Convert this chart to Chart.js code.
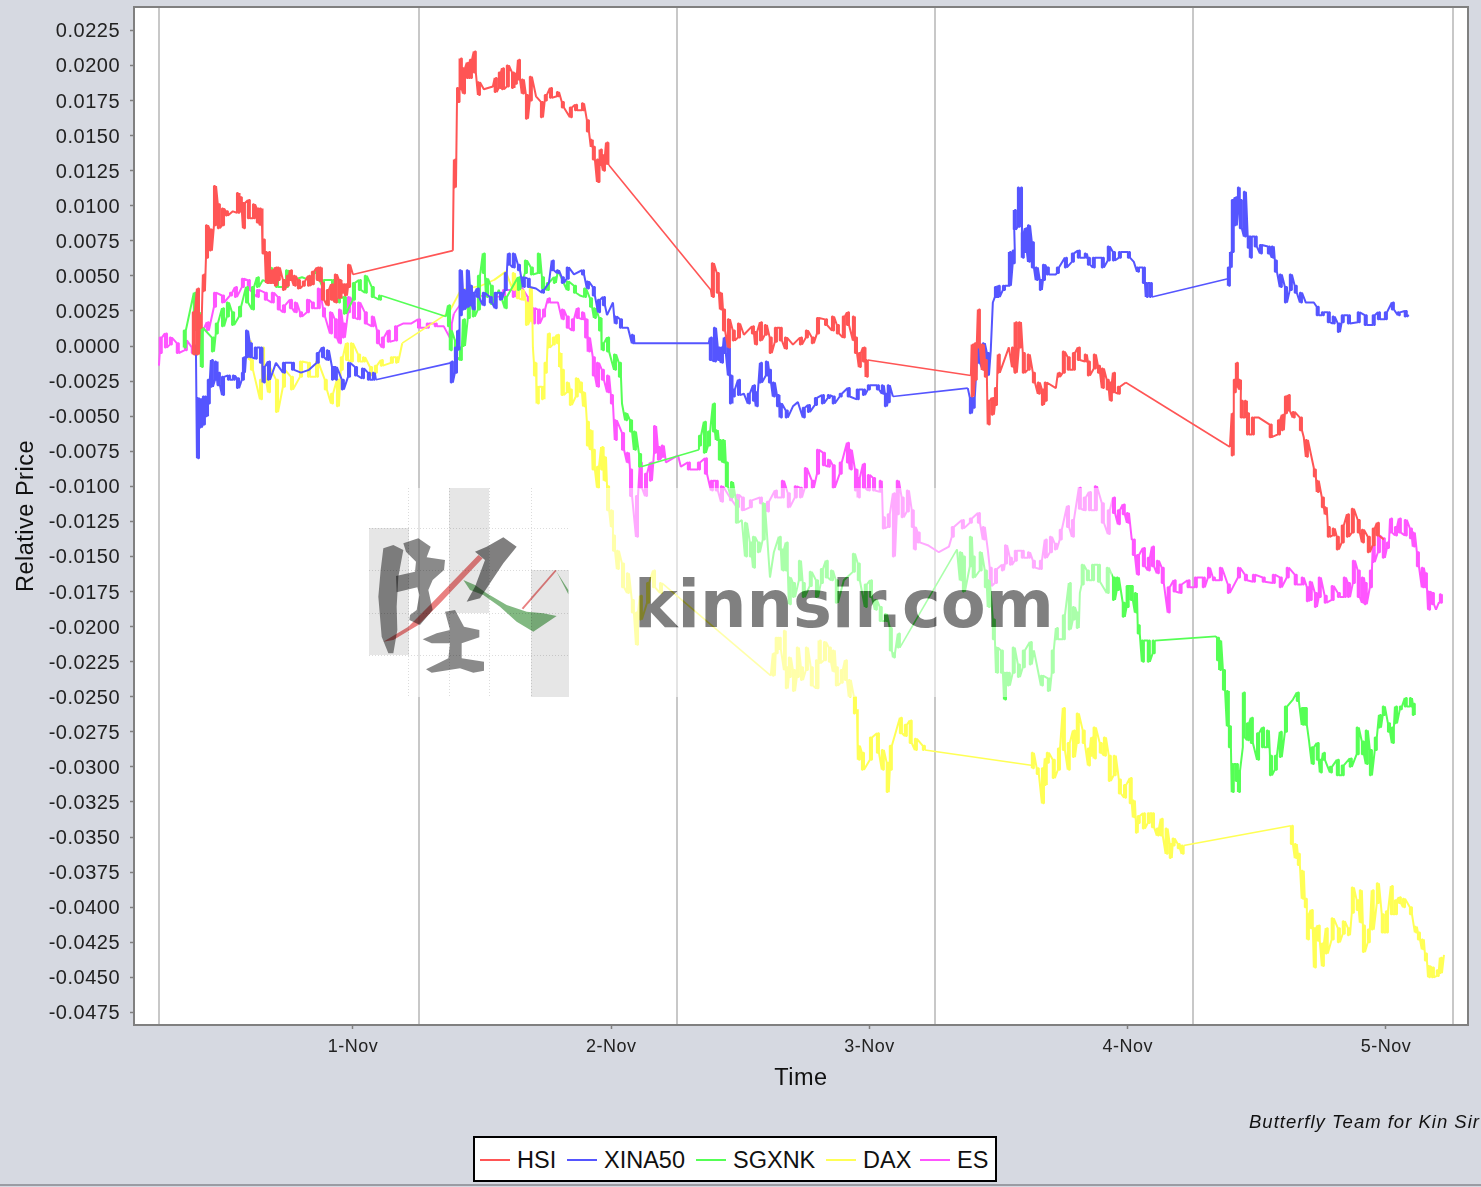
<!DOCTYPE html>
<html><head><meta charset="utf-8"><title>Relative Price</title>
<script src="https://cdn.jsdelivr.net/npm/chart.js@4"></script>
<style>
html,body{margin:0;padding:0;width:1481px;height:1187px;overflow:hidden;background:#d6d9e1}
#wrap{position:relative;width:1481px;height:1187px;overflow:hidden}
canvas{position:absolute;left:0;top:0}
#foot{position:absolute;left:1249px;top:1111px;font:italic 18.5px "Liberation Sans";letter-spacing:1px;color:#111;white-space:nowrap}
#legend{position:absolute;left:473px;top:1136px;width:520px;height:42px;border:2px solid #000;background:#fff;font:23.5px "Liberation Sans";color:#111}
#legend span{position:absolute;top:8px;line-height:28px;white-space:nowrap}
#legend i{position:absolute;top:21px;height:2px;width:30px}
#rule{position:absolute;left:0;top:1184px;width:1481px;height:2px;background:#9a9ca3}
</style></head><body><div id="wrap"><canvas id="c" width="1481" height="1187"></canvas>
<div id="foot">Butterfly Team for Kin Sir</div><div id="legend"></div><div id="rule"></div></div>
<script>
// Each row: [day of November, high, low] of the relative price, or [day, price]
const hsi=[[.384,.0024,-.0006],[.400,.0041,-.0006],[.411,.0022,.0013],[.423,.0051,.0039],[.435,.0086,.0063],[.450,.0083,.0068],[.466,.0114,.0086],[.481,.0101,.0084],[.497,.0098,.0086],[.512,.0096,.0093],[.535,.0096],[.555,.0109,.0095],[.566,.0106,.0096],[.578,.0102,.0084],[.597,.0104,.0091],[.617,.0101,.0091],[.632,.0098,.0088],[.644,.0098,.0086],[.655,.0076,.0066],[.667,.0067,.0045],[.675,.0067,.0045],[.690,.0054,.0045],[.702,.0056,.0043],[.713,.0056,.0047],[.733,.0047,.0040],[.748,.0050,.0043],[.760,.0054,.0047],[.775,.0050,.0043],[.791,.0047,.0041],[.810,.0046,.0043],[.830,.0050,.0043],[.845,.0053,.0044],[.864,.0056,.0047],[.876,.0056,.0046],[.884,.0045,.0033],[.903,.0040,.0029],[.919,.0044,.0033],[.934,.0051,.0031],[.950,.0047,.0034],[.961,.0044,.0038],[.973,.0044,.0036],[.985,.0058,.0042],[1,.0051],[1.387,.0068],[1.395,.0133,.0113],[1.407,.0184,.0174],[1.418,.0205,.0183],[1.430,.0198,.0180],[1.445,.0202,.0191],[1.457,.0204,.0191],[1.472,.0210,.0195],[1.488,.0188,.0179],[1.507,.0183],[1.542,.0185],[1.553,.0191,.0181],[1.569,.0195,.0184],[1.581,.0198,.0183],[1.600,.0200,.0185],[1.620,.0195,.0184],[1.631,.0194,.0187],[1.643,.0204,.0190],[1.658,.0190,.0180],[1.674,.0179,.0162],[1.689,.0192,.0175],[1.709,.0178],[1.732,.0174,.0163],[1.747,.0179,.0175],[1.767,.0184,.0177],[1.794,.0181,.0178],[1.813,.0174,.0170],[1.844,.0170,.0163],[1.864,.0172,.0168],[1.891,.0173,.0168],[1.910,.0161,.0153],[1.925,.0147,.0142],[1.933,.0142,.0133],[1.949,.0133,.0117],[1.960,.0140,.0129],[1.972,.0136,.0125],[1.984,.0145,.0130],[1.991,.0129],[2.386,.0040],[2.394,.0059,.0035],[2.413,.0052,.0038],[2.425,.0038,.0026],[2.437,.0026,.0011],[2.456,.0019,-.0001],[2.475,.0011,.0004],[2.495,.0016,.0006],[2.514,.0008],[2.549,.0014,.0009],[2.561,.0010,.0001],[2.580,.0017,.0004],[2.599,.0015,.0008],[2.618,.0006,-.0005],[2.638,.0013,.0003],[2.657,.0013,.0004],[2.677,.0006,-.0002],[2.704,.0001],[2.735,.0006,.0001],[2.758,.0011,.0006],[2.781,.0006,.0002],[2.801,.0020,.0009],[2.832,.0019,.0015],[2.859,.0021,.0011],[2.878,.0015,.0009],[2.901,.0021,.0006],[2.917,.0024,.0015],[2.940,.0021,.0004],[2.948,.0006,-.0005],[2.963,-.0005,-.0015],[2.979,-.0001,-.0011],[2.990,-.0010,-.0022],[3.393,-.0021],[3.400,.0001,-.0036],[3.412,.0002,-.0024],[3.424,.0026,-.0001],[3.439,.0001,-.0017],[3.451,-.0010,-.0022],[3.462,-.0039,-.0056],[3.478,-.0037,-.0049],[3.490,-.0030,-.0042],[3.501,-.0006,-.0019],[3.540,-.0001],[3.556,-.0001,-.0015],[3.567,.0017,-.0019],[3.583,.0017,-.0001],[3.598,-.0005,-.0019],[3.617,-.0006,-.0017],[3.637,-.0019,-.0026],[3.656,-.0026,-.0034],[3.672,-.0031,-.0042],[3.683,-.0026,-.0039],[3.722,-.0030],[3.734,-.0019,-.0022],[3.753,-.0004,-.0019],[3.772,-.0008,-.0017],[3.792,-.0005,-.0017],[3.811,-.0001,-.0010],[3.838,-.0006,-.0011],[3.850,-.0011,-.0021],[3.873,-.0006,-.0016],[3.889,-.0014,-.0019],[3.904,-.0016,-.0030],[3.923,-.0024,-.0031],[3.935,-.0026,-.0039],[3.947,-.0019,-.0033],[3.966,-.0029,-.0034],[3.993,-.0026],[4.396,-.0072],[4.407,-.0048,-.0078],[4.415,-.0024,-.0033],[4.423,-.0012,-.0029],[4.435,-.0024,-.0031],[4.442,-.0039,-.0051],[4.458,-.0039,-.0051],[4.466,-.0048,-.0063],[4.485,-.0051,-.0063],[4.508,-.0051],[4.554,-.0056,-.0065],[4.586,-.0053,-.0063],[4.601,-.0049,-.0060],[4.613,-.0036,-.0048],[4.624,-.0035,-.0046],[4.643,-.0047,-.0051],[4.671,-.0051,-.0060],[4.682,-.0065],[4.694,-.0067,-.0079],[4.721,-.0087],[4.725,-.0088,-.0093],[4.736,-.0096,-.0104],[4.756,-.0108,-.0115],[4.767,-.0115,-.0120],[4.779,-.0129,-.0136],[4.798,-.0130,-.0135],[4.814,-.0136,-.0145],[4.833,-.0128,-.0140],[4.853,-.0120,-.0136],[4.872,-.0116,-.0133],[4.895,-.0124,-.0133],[4.911,-.0131,-.0140],[4.934,-.0136,-.0147],[4.953,-.0130,-.0142],[4.969,-.0126,-.0135],[4.992,-.0138]];
const xina50=[[.392,.0001],[.400,-.0037,-.0080],[.411,-.0038,-.0058],[.423,-.0036,-.0056],[.435,-.0036,-.0050],[.442,-.0024,-.0041],[.454,-.0010,-.0029],[.470,-.0011,-.0024],[.481,-.0019,-.0028],[.497,-.0022,-.0035],[.520,-.0021,-.0024],[.539,-.0021,-.0024],[.555,-.0023,-.0030],[.574,-.0019,-.0024],[.578,-.0008,-.0019],[.590,.0011,-.0008],[.605,.0002,-.0008],[.624,-.0001,-.0009],[.644,-.0001,-.0012],[.655,-.0015,-.0026],[.675,-.0011,-.0024],[.702,-.0012],[.733,-.0012,-.0019],[.768,-.0012,-.0017],[.799,-.0019],[.830,-.0017],[.864,-.0005,-.0012],[.884,-.0001,-.0008],[.903,-.0003,-.0010],[.923,-.0015,-.0024],[.934,-.0015,-.0024],[.961,-.0024,-.0031],[.985,-.0012,-.0022],[1.012,-.0015,-.0021],[1.039,-.0016,-.0023],[1.062,-.0019,-.0024],[1.081,-.0019,-.0024],[1.089,-.0024],[1.379,-.0012],[1.383,-.0011,-.0026],[1.399,-.0001,-.0019],[1.407,.0011,-.0003],[1.418,.0054,.0022],[1.430,.0040,.0026],[1.445,.0054,.0028],[1.457,.0043,.0029],[1.468,.0038,.0026],[1.484,.0041,.0035],[1.507,.0038,.0029],[1.534,.0035,.0031],[1.553,.0038,.0027],[1.573,.0038,.0033],[1.592,.0052,.0040],[1.604,.0066,.0058],[1.623,.0066,.0056],[1.643,.0058,.0054],[1.662,.0049,.0042],[1.681,.0048,.0042],[1.709,.0041],[1.736,.0040,.0038],[1.759,.0045],[1.774,.0061,.0054],[1.794,.0054,.0052],[1.813,.0049,.0045],[1.832,.0056,.0048],[1.856,.0051],[1.891,.0054,.0051],[1.910,.0046,.0041],[1.933,.0042,.0036],[1.953,.0033,.0024],[1.972,.0035,.0029],[1.984,.0022],[2.007,.0031],[2.018,.0021,.0016],[2.038,.0019,.0013],[2.065,.0013],[2.084,.0008,.0002],[2.090,.0002],[2.378,.0002],[2.386,.0006,-.0010],[2.402,.0013,-.0011],[2.417,-.0001,-.0010],[2.429,-.0001,-.0012],[2.440,.0006,-.0005],[2.456,-.0001,-.0021],[2.464,-.0021,-.0041],[2.475,-.0031,-.0036],[2.495,-.0024,-.0035],[2.514,-.0034],[2.533,-.0034,-.0041],[2.553,-.0028,-.0039],[2.564,-.0033,-.0043],[2.580,-.0012,-.0026],[2.603,-.0011,-.0021],[2.615,-.0017,-.0026],[2.630,-.0026,-.0036],[2.646,-.0035,-.0043],[2.657,-.0041,-.0051],[2.680,-.0046,-.0051],[2.704,-.0043],[2.723,-.0040],[2.746,-.0044,-.0051],[2.766,-.0042,-.0047],[2.793,-.0037,-.0042],[2.820,-.0035,-.0041],[2.843,-.0035,-.0037],[2.862,-.0036,-.0041],[2.889,-.0034,-.0036],[2.920,-.0030,-.0036],[2.955,-.0031,-.0038],[2.979,-.0031,-.0035],[2.998,-.0028,-.0031],[3.033,-.0028,-.0031],[3.052,-.0028,-.0034],[3.064,-.0034,-.0043],[3.075,-.0028,-.0040],[3.091,-.0036],[3.381,-.0030],[3.393,-.0037,-.0048],[3.404,-.0037,-.0044],[3.424,.0002,-.0012],[3.443,.0002,-.0017],[3.459,-.0005,-.0021],[3.470,-.0003],[3.478,.0031],[3.490,.0042,.0035],[3.501,.0043,.0035],[3.521,.0043,.0040],[3.540,.0043],[3.544,.0067,.0043],[3.559,.0068,.0059],[3.563,.0097,.0083],[3.579,.0113,.0085],[3.587,.0113,.0088],[3.594,.0081,.0063],[3.606,.0084,.0067],[3.618,.0086,.0060],[3.633,.0074,.0056],[3.648,.0056,.0047],[3.664,.0047,.0040],[3.676,.0058,.0047],[3.691,.0056,.0051],[3.722,.0051],[3.730,.0056,.0052],[3.761,.0063,.0056],[3.788,.0066,.0060],[3.811,.0068,.0063],[3.838,.0066,.0063],[3.850,.0063,.0058],[3.869,.0063,.0056],[3.904,.0063,.0056],[3.927,.0071,.0061],[3.947,.0067,.0061],[3.970,.0067,.0063],[4.005,.0067,.0063],[4.024,.0060],[4.040,.0056,.0053],[4.063,.0056,.0045],[4.074,.0045,.0035],[4.090,.0045,.0035],[4.388,.0048],[4.392,.0056,.0043],[4.400,.0067,.0056],[4.407,.0104,.0067],[4.419,.0106,.0086],[4.431,.0113,.0095],[4.438,.0104,.0084],[4.454,.0110,.0078],[4.469,.0078,.0070],[4.477,.0078,.0063],[4.496,.0078,.0071],[4.516,.0072,.0066],[4.547,.0071,.0066],[4.562,.0071,.0063],[4.574,.0061,.0053],[4.593,.0051,.0042],[4.613,.0042,.0031],[4.632,.0051,.0040],[4.651,.0043,.0038],[4.671,.0038,.0031],[4.690,.0031],[4.721,.0031],[4.736,.0028,.0022],[4.756,.0024,.0022],[4.779,.0024,.0017],[4.798,.0021,.0016],[4.818,.0016,.0010],[4.833,.0022,.0017],[4.857,.0022,.0016],[4.895,.0024,.0017],[4.922,.0022,.0015],[4.953,.0022,.0015],[4.973,.0024,.0019],[5,.0024,.0019],[5.027,.0031,.0026],[5.050,.0024,.0022],[5.077,.0025,.0021],[5.089,.0022]];
const sgxnk=[[.349,.0011,-.0001],[.388,.0038,.0011],[.408,.0024],[.415,.0013,-.0015],[.458,.0006,-.0004],[.473,.0016,.0009],[.497,.0027,.0014],[.516,.0031,.0021],[.536,.0024,.0015],[.563,.0028,.0021],[.590,.0042,.0031],[.613,.0042,.0026],[.632,.0049,.0042],[.651,.0047],[.683,.0056,.0045],[.706,.0047,.0042],[.745,.0054,.0042],[.768,.0047],[.803,.0049],[.833,.0047],[.864,.0054,.0048],[.884,.0047,.0043],[.923,.0047,.0038],[.946,.0034,.0031],[.969,.0035,.0023],[1.004,.0045,.0033],[1.027,.0047,.0040],[1.050,.0050,.0038],[1.077,.0042,.0035],[1.105,.0036,.0033],[1.360,.0021],[1.372,.0029,.0014],[1.379,.0011,-.0003],[1.399,.0004,-.0008],[1.418,-.0001,-.0010],[1.430,.0019,.0000],[1.449,.0031,.0020],[1.468,.0028,.0021],[1.488,.0050,.0026],[1.507,.0066,.0052],[1.519,.0048,.0035],[1.538,.0043,.0030],[1.565,.0040],[1.592,.0035,.0027],[1.643,.0049,.0040],[1.670,.0061,.0052],[1.693,.0056,.0051],[1.720,.0066,.0052],[1.736,.0049,.0041],[1.755,.0045,.0040],[1.782,.0049,.0045],[1.794,.0054],[1.832,.0046,.0040],[1.860,.0043,.0038],[1.879,.0036],[1.899,.0041,.0035],[1.922,.0034,.0028],[1.937,.0027,.0020],[1.957,.0020,.0011],[1.968,.0002,-.0003],[1.988,.0006,-.0004],[2.015,-.0006,-.0017],[2.034,-.0012,-.0022],[2.042,-.0041],[2.058,-.0048,-.0053],[2.077,-.0053,-.0061],[2.092,-.0061,-.0074],[2.112,-.0077,-.0086],[2.340,-.0074],[2.344,-.0064,-.0071],[2.363,-.0054,-.0076],[2.379,-.0061,-.0071],[2.398,-.0041,-.0061],[2.409,-.0060,-.0067],[2.421,-.0067,-.0081],[2.436,-.0067,-.0083],[2.448,-.0083,-.0100],[2.468,-.0097,-.0108],[2.487,-.0110,-.0126],[2.506,-.0124],[2.522,-.0126,-.0150],[2.541,-.0140,-.0150],[2.553,-.0136,-.0158],[2.572,-.0140,-.0147],[2.591,-.0112,-.0138],[2.603,-.0133],[2.615,-.0165],[2.630,-.0147],[2.653,-.0136,-.0145],[2.665,-.0145,-.0160],[2.680,-.0140,-.0160],[2.692,-.0165,-.0184],[2.708,-.0169,-.0179],[2.731,-.0153,-.0167],[2.746,-.0169,-.0179],[2.773,-.0161,-.0171],[2.797,-.0167,-.0179],[2.816,-.0159,-.0169],[2.835,-.0153,-.0165],[2.855,-.0160,-.0167],[2.874,-.0167,-.0183],[2.901,-.0167],[2.940,-.0148,-.0161],[2.959,-.0155,-.0167],[2.986,-.0170,-.0186],[3.006,-.0167,-.0179],[3.025,-.0181,-.0188],[3.044,-.0186,-.0196],[3.064,-.0191,-.0196],[3.083,-.0201,-.0217],[3.095,-.0219,-.0222],[3.114,-.0205,-.0215],[3.339,-.0145],[3.354,-.0147,-.0167],[3.366,-.0150,-.0175],[3.393,-.0136,-.0157],[3.404,-.0150,-.0165],[3.431,-.0147,-.0160],[3.451,-.0160,-.0172],[3.462,-.0167,-.0186],[3.482,-.0195,-.0209],[3.494,-.0215,-.0233],[3.513,-.0217,-.0233],[3.525,-.0233,-.0252],[3.540,-.0233,-.0242],[3.559,-.0215,-.0233],[3.579,-.0227,-.0236],[3.598,-.0217,-.0229],[3.625,-.0211,-.0227],[3.637,-.0217],[3.648,-.0227],[3.668,-.0235,-.0242],[3.695,-.0237,-.0246],[3.710,-.0217,-.0233],[3.726,-.0201,-.0209],[3.753,-.0192,-.0209],[3.776,-.0169,-.0202],[3.792,-.0186,-.0195],[3.807,-.0190,-.0201],[3.815,-.0176],[3.826,-.0156,-.0170],[3.846,-.0160,-.0167],[3.866,-.0156,-.0167],[3.889,-.0156,-.0168],[3.923,-.0158,-.0176],[3.947,-.0165,-.0181],[3.962,-.0165,-.0174],[3.985,-.0183,-.0193],[4,-.0171,-.0186],[4.016,-.0171,-.0181],[4.032,-.0176,-.0190],[4.043,-.0199,-.0205],[4.059,-.0210,-.0225],[4.082,-.0210,-.0225],[4.101,-.0210,-.0219],[4.342,-.0207],[4.350,-.0208,-.0224],[4.358,-.0210,-.0231],[4.373,-.0231,-.0245],[4.388,-.0246,-.0271],[4.396,-.0271,-.0286],[4.407,-.0298,-.0318],[4.423,-.0298,-.0310],[4.431,-.0303,-.0318],[4.446,-.0286],[4.450,-.0247,-.0279],[4.466,-.0269,-.0281],[4.481,-.0265,-.0283],[4.505,-.0276,-.0295],[4.524,-.0272,-.0286],[4.543,-.0274,-.0286],[4.555,-.0292,-.0306],[4.574,-.0292,-.0302],[4.593,-.0275,-.0293],[4.613,-.0257,-.0275],[4.640,-.0252],[4.659,-.0247,-.0253],[4.678,-.0258,-.0270],[4.690,-.0258,-.0270],[4.702,-.0281],[4.717,-.0286,-.0298],[4.736,-.0283,-.0295],[4.748,-.0295,-.0304],[4.760,-.0290,-.0295],[4.787,-.0300,-.0304],[4.814,-.0295,-.0306],[4.833,-.0299,-.0306],[4.864,-.0294,-.0300],[4.891,-.0272,-.0291],[4.911,-.0282,-.0291],[4.926,-.0274,-.0298],[4.942,-.0288,-.0306],[4.961,-.0279,-.0288],[4.977,-.0263,-.0272],[4.992,-.0257,-.0263],[5.012,-.0269,-.0275],[5.027,-.0272,-.0283],[5.039,-.0257,-.0269],[5.058,-.0257,-.0259],[5.077,-.0251,-.0257],[5.097,-.0251,-.0257],[5.108,-.0255,-.0263]];
const dax=[[.601,.0004,-.0010],[.609,-.0010,-.0017],[.644,-.0024,-.0038],[.652,-.0001,-.0015],[.675,-.0015,-.0033],[.706,-.0024,-.0047],[.733,-.0017,-.0029],[.764,-.0022,-.0031],[.799,-.0011,-.0022],[.830,-.0012,-.0022],[.861,-.0011,-.0022],[.895,-.0024,-.0031],[.919,-.0034,-.0041],[.942,-.0024,-.0043],[.957,-.0008,-.0017],[.977,.0002,-.0010],[.996,.0002,-.0011],[1.024,-.0006,-.0011],[1.043,-.0008,-.0011],[1.070,-.0015,-.0021],[1.089,-.0014,-.0019],[1.112,-.0010,-.0014],[1.151,-.0008,-.0012],[1.171,-.0008,-.0012],[1.191,.0002],[1.372,.0024],[1.418,.0040],[1.496,.0043],[1.546,.0047],[1.592,.0053],[1.623,.0052,.0040],[1.639,.0041,.0034],[1.658,.0040,.0033],[1.674,.0031,.0015],[1.689,.0042,.0018],[1.697,-.0001],[1.705,-.0012,-.0021],[1.716,-.0029,-.0041],[1.736,-.0029,-.0038],[1.747,-.0012,-.0019],[1.759,.0009,-.0001],[1.778,.0006,.0001],[1.794,.0008,.0002],[1.802,-.0005,-.0015],[1.813,-.0017,-.0035],[1.832,-.0026,-.0033],[1.844,-.0031,-.0042],[1.867,-.0023,-.0036],[1.883,-.0026,-.0033],[1.895,-.0033,-.0043],[1.910,-.0054,-.0071],[1.922,-.0060,-.0074],[1.933,-.0074,-.0088],[1.949,-.0086,-.0101],[1.965,-.0072,-.0088],[1.976,-.0079,-.0096],[1.988,-.0100,-.0117],[2.003,-.0117,-.0129],[2.011,-.0135,-.0146],[2.026,-.0146,-.0159],[2.046,-.0155,-.0172],[2.065,-.0162,-.0176],[2.084,-.0181,-.0190],[2.100,-.0190,-.0213],[2.115,-.0178,-.0195],[2.143,-.0169,-.0183],[2.166,-.0160,-.0172],[2.193,-.0169,-.0176],[2.618,-.0235],[2.630,-.0219,-.0235],[2.641,-.0208,-.0219],[2.653,-.0208,-.0216],[2.673,-.0203,-.0231],[2.680,-.0229,-.0244],[2.692,-.0222,-.0236],[2.708,-.0231,-.0246],[2.723,-.0215,-.0236],[2.739,-.0229,-.0238],[2.758,-.0215,-.0231],[2.777,-.0229,-.0242],[2.797,-.0224,-.0244],[2.808,-.0210,-.0226],[2.828,-.0211,-.0224],[2.847,-.0215,-.0225],[2.862,-.0217,-.0232],[2.874,-.0229,-.0242],[2.893,-.0231,-.0240],[2.909,-.0224,-.0238],[2.924,-.0238,-.0250],[2.944,-.0250,-.0262],[2.952,-.0259],[2.959,-.0285,-.0295],[2.975,-.0290,-.0302],[3.006,-.0279,-.0295],[3.033,-.0276,-.0290],[3.052,-.0288,-.0302],[3.071,-.0297,-.0318],[3.083,-.0285,-.0302],[3.122,-.0265,-.0276],[3.141,-.0270,-.0278],[3.160,-.0267,-.0283],[3.180,-.0280,-.0288],[3.211,-.0285,-.0288],[3.633,-.0299],[3.633,-.0290,-.0301],[3.652,-.0301,-.0305],[3.672,-.0301,-.0326],[3.683,-.0294,-.0313],[3.691,-.0290,-.0297],[3.714,-.0295,-.0308],[3.734,-.0287,-.0302],[3.753,-.0258,-.0288],[3.772,-.0283,-.0302],[3.792,-.0274,-.0293],[3.807,-.0262,-.0283],[3.830,-.0274,-.0283],[3.850,-.0287,-.0299],[3.862,-.0279,-.0292],[3.873,-.0272,-.0294],[3.896,-.0283,-.0290],[3.912,-.0279,-.0292],[3.931,-.0292,-.0310],[3.950,-.0292,-.0306],[3.970,-.0309,-.0319],[3.990,-.0313,-.0322],[4.012,-.0308,-.0326],[4.024,-.0324,-.0336],[4.036,-.0340,-.0347],[4.043,-.0335,-.0340],[4.063,-.0333,-.0344],[4.082,-.0333,-.0340],[4.098,-.0333,-.0343],[4.117,-.0344,-.0349],[4.132,-.0337,-.0349],[4.151,-.0344,-.0362],[4.167,-.0355,-.0365],[4.178,-.0351,-.0356],[4.198,-.0355,-.0358],[4.213,-.0356,-.0362],[4.632,-.0342],[4.636,-.0342,-.0355],[4.651,-.0355,-.0365],[4.663,-.0362,-.0370],[4.678,-.0374,-.0394],[4.690,-.0394,-.0400],[4.698,-.0405,-.0423],[4.713,-.0402,-.0415],[4.725,-.0415,-.0443],[4.740,-.0413,-.0424],[4.756,-.0426,-.0442],[4.771,-.0415,-.0433],[4.794,-.0408,-.0423],[4.818,-.0415,-.0425],[4.837,-.0410,-.0419],[4.857,-.0415,-.0420],[4.872,-.0386,-.0404],[4.891,-.0395,-.0402],[4.903,-.0388,-.0411],[4.915,-.0413,-.0432],[4.934,-.0416,-.0425],[4.949,-.0388,-.0416],[4.969,-.0383,-.0397],[4.988,-.0405,-.0418],[5.004,-.0403,-.0418],[5.023,-.0385,-.0405],[5.039,-.0395,-.0405],[5.054,-.0393,-.0397],[5.070,-.0394,-.0400],[5.097,-.0400,-.0405],[5.116,-.0414,-.0418],[5.128,-.0418,-.0423],[5.143,-.0423,-.0430],[5.155,-.0433,-.0438],[5.167,-.0442,-.0450],[5.182,-.0443,-.0450],[5.201,-.0445,-.0449],[5.213,-.0436,-.0447],[5.225,-.0434]];
const es=[[.249,-.0014],[.256,.0006,-.0005],[.276,.0009,-.0001],[.295,.0006,.0001],[.322,.0002,-.0005],[.353,.0004,-.0003],[.380,-.0001,-.0005],[.411,.0009,.0004],[.438,.0017,.0011],[.466,.0038,.0028],[.497,.0036,.0031],[.528,.0038,.0036],[.547,.0042,.0035],[.574,.0048,.0042],[.597,.0047,.0040],[.632,.0040,.0035],[.663,.0038,.0033],[.690,.0038,.0031],[.713,.0035,.0026],[.733,.0029,.0024],[.760,.0033,.0027],[.779,.0031,.0024],[.799,.0024,.0021],[.826,.0033,.0024],[.845,.0031,.0027],[.868,.0041,.0027],[.888,.0027,.0021],[.915,.0024,.0009],[.934,.0019,.0006],[.950,.0026,.0002],[.965,.0016,.0006],[.985,.0035,.0024],[1.004,.0031,.0020],[1.024,.0031,.0019],[1.050,.0024,.0016],[1.077,.0021,.0014],[1.097,.0011,.0002],[1.116,.0006,-.0001],[1.139,.0011,.0003],[1.167,.0014,.0004],[1.194,.0016],[1.225,.0016],[1.256,.0019,.0013],[1.290,.0016,.0013],[1.321,.0016,.0014],[1.352,.0014],[1.379,.0016,.0006],[1.391,.0023],[1.457,.0040,.0036],[1.585,.0040,.0035],[1.623,.0040,.0035],[1.639,.0045,.0038],[1.681,.0035,.0031],[1.701,.0027,.0016],[1.720,.0026,.0016],[1.740,.0026,.0021],[1.759,.0034,.0031],[1.794,.0031],[1.813,.0026,.0019],[1.832,.0021,.0013],[1.852,.0019,.0011],[1.871,.0027,.0020],[1.891,.0024,.0019],[1.903,.0019,.0006],[1.914,.0006,-.0004],[1.933,-.0008,-.0021],[1.949,-.0012,-.0029],[1.968,-.0017,-.0024],[1.988,-.0021,-.0033],[2.003,-.0035,-.0041],[2.018,-.0053,-.0067],[2.046,-.0062,-.0074],[2.065,-.0076,-.0083],[2.077,-.0088,-.0107],[2.100,-.0107,-.0136],[2.115,-.0083,-.0101],[2.135,-.0091,-.0107],[2.154,-.0083,-.0096],[2.170,-.0057,-.0076],[2.185,-.0072,-.0081],[2.200,-.0071,-.0079],[2.212,-.0083],[2.259,-.0078],[2.270,-.0086],[2.301,-.0083,-.0088],[2.340,-.0083,-.0088],[2.367,-.0080,-.0091],[2.390,-.0096,-.0103],[2.409,-.0096,-.0103],[2.429,-.0100,-.0111],[2.464,-.0108,-.0110],[2.491,-.0106,-.0115],[2.510,-.0108,-.0117],[2.541,-.0110,-.0115],[2.580,-.0108,-.0112],[2.607,-.0111,-.0118],[2.638,-.0103,-.0108],[2.665,-.0096,-.0108],[2.688,-.0105,-.0115],[2.715,-.0100,-.0108],[2.735,-.0101,-.0108],[2.754,-.0087,-.0101],[2.781,-.0096,-.0101],[2.801,-.0074,-.0091],[2.824,-.0076,-.0085],[2.843,-.0081,-.0086],[2.862,-.0085,-.0101],[2.889,-.0083,-.0091],[2.917,-.0069,-.0083],[2.928,-.0074,-.0088],[2.948,-.0088,-.0103],[2.959,-.0094,-.0108],[2.979,-.0084,-.0101],[2.998,-.0092,-.0103],[3.018,-.0094,-.0103],[3.044,-.0096,-.0104],[3.056,-.0122,-.0130],[3.075,-.0120,-.0129],[3.095,-.0105,-.0150],[3.110,-.0096,-.0120],[3.129,-.0108,-.0122],[3.149,-.0103,-.0118],[3.168,-.0117,-.0129],[3.176,-.0129,-.0145],[3.191,-.0133,-.0140],[3.226,-.0142],[3.269,-.0147],[3.308,-.0143],[3.323,-.0129,-.0136],[3.362,-.0124,-.0130],[3.393,-.0123,-.0126],[3.424,-.0119,-.0126],[3.443,-.0129,-.0138],[3.459,-.0146],[3.470,-.0158,-.0171],[3.490,-.0159,-.0169],[3.517,-.0156,-.0160],[3.529,-.0142,-.0155],[3.548,-.0151,-.0156],[3.567,-.0146,-.0153],[3.594,-.0146,-.0151],[3.618,-.0147,-.0151],[3.637,-.0153,-.0158],[3.664,-.0153,-.0159],[3.683,-.0138,-.0151],[3.703,-.0136,-.0147],[3.722,-.0141,-.0145],[3.741,-.0131,-.0138],[3.769,-.0114,-.0129],[3.788,-.0124,-.0136],[3.815,-.0101,-.0116],[3.834,-.0108,-.0117],[3.854,-.0104,-.0117],[3.877,-.0100,-.0117],[3.904,-.0112,-.0126],[3.927,-.0117,-.0134],[3.947,-.0108,-.0119],[3.966,-.0117,-.0127],[3.985,-.0113,-.0120],[4.001,-.0119,-.0126],[4.016,-.0138],[4.024,-.0138,-.0149],[4.040,-.0149,-.0163],[4.063,-.0144,-.0157],[4.082,-.0151,-.0160],[4.098,-.0143,-.0157],[4.117,-.0153,-.0162],[4.136,-.0158,-.0169],[4.159,-.0172,-.0190],[4.182,-.0167,-.0175],[4.205,-.0170,-.0176],[4.236,-.0167,-.0172],[4.264,-.0165,-.0172],[4.295,-.0165,-.0172],[4.315,-.0158,-.0165],[4.334,-.0165,-.0167],[4.361,-.0158,-.0167],[4.392,-.0170,-.0176],[4.431,-.0158,-.0165],[4.458,-.0163,-.0167],[4.489,-.0163,-.0168],[4.527,-.0165,-.0168],[4.566,-.0163,-.0169],[4.593,-.0165,-.0172],[4.620,-.0158,-.0165],[4.651,-.0163,-.0170],[4.678,-.0165,-.0170],[4.698,-.0172,-.0182],[4.709,-.0168,-.0181],[4.729,-.0176,-.0186],[4.744,-.0165,-.0179],[4.767,-.0178,-.0183],[4.794,-.0171,-.0181],[4.818,-.0176,-.0179],[4.841,-.0165,-.0179],[4.857,-.0169,-.0179],[4.876,-.0153,-.0169],[4.895,-.0160,-.0179],[4.911,-.0165,-.0183],[4.922,-.0169,-.0184],[4.942,-.0160,-.0172],[4.953,-.0142,-.0154],[4.973,-.0135,-.0147],[4.992,-.0137,-.0151],[5.008,-.0140,-.0144],[5.020,-.0123,-.0133],[5.039,-.0129,-.0135],[5.054,-.0123,-.0133],[5.077,-.0124,-.0135],[5.097,-.0130,-.0137],[5.108,-.0133,-.0143],[5.124,-.0147,-.0157],[5.143,-.0158,-.0172],[5.155,-.0162,-.0172],[5.167,-.0175,-.0188],[5.182,-.0176,-.0184],[5.194,-.0188],[5.205,-.0183],[5.213,-.0177,-.0183]];

const seriesNames=['HSI','XINA50','SGXNK','DAX','ES'];
const seriesRows=[hsi,xina50,sgxnk,dax,es];
const seriesColors=['#ff5555','#5555ff','#55ff55','#ffff55','#ff55ff'];
const xTickDays=[1,2,3,4,5];
const xTickLabels=['1-Nov','2-Nov','3-Nov','4-Nov','5-Nov'];
const sessionMarkers=[.25,1.2556,2.2546,3.2536,4.2526,5.259];
const xMin=.1562,xMax=5.3141,yMin=-.04833,yMax=.024095,yStep=.0025;
const barHalfWidth=.004; // each high/low row is drawn as a narrow solid bar

function toPoints(rows){
  const pts=[];let up=true;
  for(const [t,a,b] of rows){
    if(b===undefined){pts.push({x:t,y:a});continue;}
    for(const x of [t-barHalfWidth,t,t+barHalfWidth]){
      if(up)pts.push({x,y:b},{x,y:a});else pts.push({x,y:a},{x,y:b});
      up=!up;
    }
  }
  return pts;
}
const frame={id:'frame',
  beforeDraw(c){const a=c.chartArea,g=c.ctx;g.save();g.fillStyle='#d6d9e1';g.fillRect(0,0,c.width,c.height);g.fillStyle='#fff';g.fillRect(a.left,a.top,a.width,a.height);g.restore();g.letterSpacing='0.5px';},
  beforeDatasetsDraw(c){const a=c.chartArea,g=c.ctx;g.save();g.strokeStyle='#c8c8c8';g.lineWidth=2;
    for(const m of sessionMarkers){const p=Math.round(c.scales.x.getPixelForValue(m));g.beginPath();g.moveTo(p,a.top);g.lineTo(p,a.bottom);g.stroke();}
    g.restore();},
  afterDraw(c){const a=c.chartArea,g=c.ctx;g.save();g.letterSpacing='0px';
    // translucent watermark laid over the plot: the wash leaves the lettering out
    const off=document.createElement('canvas');off.width=c.width;off.height=c.height;const o=off.getContext('2d');
    o.fillStyle='rgba(255,255,255,.5)';o.fillRect(369,488,743,209);
    o.globalCompositeOperation='destination-out';o.font='bold 65.4px "DejaVu Sans"';o.fillStyle='#000';o.fillText('kinnsir.com',634,627);
    g.drawImage(off,0,0);
    g.globalCompositeOperation='multiply';
    g.fillStyle='#e6e6e6';g.fillRect(369,528,40,127);g.fillRect(449,488,40,125);g.fillRect(531,570,38,127);
    g.strokeStyle='#dcdcdc';g.lineWidth=1;g.setLineDash([1,2]);
    for(const x of [408.5,449.5,489.5,531.5]){g.beginPath();g.moveTo(x,488);g.lineTo(x,697);g.stroke();}
    for(const y of [528.5,570.5,613.5,655.5]){g.beginPath();g.moveTo(369,y);g.lineTo(569,y);g.stroke();}
    g.setLineDash([]);
    const poly=(col,p)=>{g.fillStyle=col;g.beginPath();p.forEach((q,i)=>{const x=360+q[0]/3,y=480+q[1]/3;i?g.lineTo(x,y):g.moveTo(x,y);});g.closePath();g.fill();};
    poly('#8a8a8a',[[70,205],[100,195],[130,210],[115,290],[110,380],[112,450],[100,520],[85,520],[65,470],[55,350],[62,270]]);
    poly('#8a8a8a',[[130,190],[175,175],[212,200],[200,232],[255,240],[252,270],[218,300],[205,330],[218,390],[180,435],[148,420],[150,405],[170,390],[178,345],[172,322],[110,337],[108,288],[165,275],[168,245],[138,215]]);
    poly('#807f7f',[[345,215],[380,200],[430,172],[470,200],[430,250],[390,310],[360,355],[320,365],[345,320],[375,240]]);
    poly('#8a8a8a',[[255,395],[285,390],[312,440],[358,450],[358,472],[305,490],[305,535],[372,545],[372,572],[340,578],[300,565],[215,578],[198,568],[235,550],[265,535],[270,490],[215,490],[188,478],[230,460],[270,450]]);
    poly('#e98080',[[70,485],[145,440],[215,370],[355,225],[368,235],[240,370],[175,435],[100,480]]);
    poly('#e98080',[[485,385],[585,270],[590,272],[490,388]]);
    poly('#82b982',[[310,300],[345,315],[380,340],[440,375],[500,395],[550,400],[590,408],[520,455],[470,425],[420,380],[370,345],[330,330]]);
    poly('#82b982',[[588,272],[625,330],[625,343],[595,285]]);
    g.font='bold 65.4px "DejaVu Sans"';g.fillStyle='#808080';g.fillText('kinnsir.com',634,627);
    g.globalCompositeOperation='source-over';
    g.strokeStyle='#808080';g.lineWidth=2;g.strokeRect(a.left-1,a.top-1,a.width+2,a.height+2);
    g.restore();}
};
const gapWidth=ctx=>Math.abs(ctx.p1.parsed.x-ctx.p0.parsed.x)>.05&&ctx.p0.parsed.y!==ctx.p1.parsed.y?1.6:2;
const chart=new Chart(document.getElementById('c'),{type:'line',plugins:[frame],
  data:{datasets:seriesNames.map((n,i)=>({label:n,data:toPoints(seriesRows[i]),borderColor:seriesColors[i],borderWidth:2,borderJoinStyle:'bevel',pointRadius:0,tension:0,fill:false,segment:{borderWidth:gapWidth}}))},
  options:{responsive:false,animation:false,parsing:false,normalized:true,events:[],
    layout:{padding:{left:12,top:8,right:14,bottom:92}},
    plugins:{legend:{display:false},tooltip:{enabled:false},title:{display:false}},
    scales:{
      x:{type:'linear',min:xMin,max:xMax,afterFit(s){s.height=71;s.paddingLeft=0;s.paddingRight=0;},
        afterBuildTicks(s){s.ticks=xTickDays.map(v=>({value:v}));},
        grid:{drawOnChartArea:false,drawTicks:true,tickLength:5,tickColor:'#808080',tickWidth:1.5},
        border:{display:false},
        ticks:{autoSkip:false,maxRotation:0,padding:7,color:'#222',font:{family:'Liberation Sans',size:18},callback:v=>xTickLabels[xTickDays.indexOf(v)]},
        title:{display:true,text:'Time',color:'#111',font:{family:'Liberation Sans',size:23.5},padding:{top:6,bottom:2}}},
      y:{type:'linear',min:yMin,max:yMax,afterFit(s){s.width=123;s.paddingTop=0;s.paddingBottom=0;},
        grid:{drawOnChartArea:false,drawTicks:true,tickLength:5,tickColor:'#808080',tickWidth:1.5},
        border:{display:false},
        ticks:{stepSize:yStep,includeBounds:false,autoSkip:false,padding:10,labelOffset:1.5,color:'#222',font:{family:'Liberation Sans',size:20},callback:v=>v.toFixed(4)},
        title:{display:true,text:'Relative Price',color:'#111',font:{family:'Liberation Sans',size:23.5},padding:{top:0,bottom:0}}}
    }}});
const legendEl=document.getElementById('legend');
const lineAt=[5,92,221,351,445],textAt=[42,129,258,388,482];
seriesNames.forEach((n,i)=>{const l=document.createElement('i');l.style.left=lineAt[i]+'px';l.style.background=seriesColors[i];legendEl.appendChild(l);
  const s=document.createElement('span');s.textContent=n;s.style.left=textAt[i]+'px';legendEl.appendChild(s);});
</script></body></html>
